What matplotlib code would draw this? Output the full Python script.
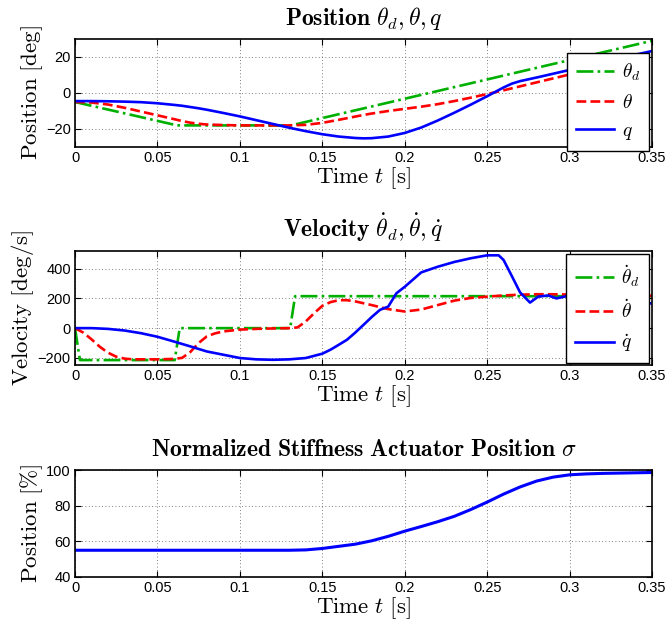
import matplotlib
matplotlib.use("Agg")
import matplotlib.pyplot as plt

plt.rcParams['font.family'] = ['Liberation Sans', 'DejaVu Sans']
plt.rcParams['mathtext.fontset'] = 'cm'
plt.rcParams['axes.unicode_minus'] = True

# --- position panel (deg) ---
t_thd = [0, 0.062, 0.131, 0.35]
pos_thd = [-5, -18, -18, 29]

t_pos = [0, 0.01, 0.02, 0.03, 0.04, 0.05, 0.06, 0.065, 0.07, 0.075, 0.08, 0.09,
         0.1, 0.11, 0.12, 0.13, 0.14, 0.15, 0.16, 0.17, 0.175, 0.18, 0.19, 0.2,
         0.21, 0.22, 0.23, 0.24, 0.25, 0.26, 0.265, 0.27, 0.28, 0.29, 0.3, 0.31,
         0.32, 0.33, 0.34, 0.35]
pos_th = [-5, -5.3, -6.4, -8.2, -10.3, -12.4, -14.5, -15.6, -16.5, -17.1, -17.5, -17.8,
          -18, -18, -18, -18, -17.7, -16.6, -14.9, -13.1, -12.2, -11.4, -10.0, -8.8,
          -7.6, -6.2, -4.5, -2.6, -0.6, 1.5, 2.6, 3.7, 5.9, 8.1, 10.3, 12.5,
          14.7, 16.9, 19.1, 21.3]
pos_q = [-4.5, -4.5, -4.6, -4.8, -5.1, -5.7, -6.6, -7.1, -7.8, -8.5, -9.3, -11.1,
         -13.0, -15.1, -17.2, -19.3, -21.2, -22.9, -24.2, -25.0, -25.2, -25.1, -24.2, -22.2,
         -19.2, -15.3, -11.0, -6.5, -1.8, 3.1, 5.2, 6.6, 8.6, 10.7, 12.8, 15.0,
         17.2, 19.3, 21.3, 23.3]

# --- velocity panel (deg/s) ---
t_vthd = [0, 0.003, 0.0605, 0.0635, 0.1305, 0.1335, 0.35]
vel_thd = [0, -215, -215, 0, 0, 215, 215]

t_vth = [0, 0.005, 0.01, 0.015, 0.02, 0.025, 0.03, 0.035, 0.04, 0.05, 0.06, 0.065,
         0.07, 0.075, 0.08, 0.085, 0.09, 0.1, 0.11, 0.12, 0.13, 0.135, 0.14, 0.145,
         0.15, 0.155, 0.16, 0.165, 0.17, 0.18, 0.19, 0.2, 0.21, 0.22, 0.23, 0.24,
         0.25, 0.26, 0.27, 0.28, 0.29, 0.3, 0.31, 0.32, 0.33, 0.34, 0.35]
vel_th = [0, -30, -75, -125, -165, -192, -205, -210, -210, -210, -207, -200,
          -160, -100, -55, -35, -22, -10, -5, -2, 0, 5, 45, 100,
          150, 175, 188, 188, 180, 155, 128, 112, 125, 155, 185, 203,
          212, 220, 225, 228, 228, 226, 225, 224, 222, 220, 218]

t_vq = [0, 0.01, 0.02, 0.03, 0.04, 0.05, 0.06, 0.07, 0.08, 0.09, 0.1, 0.11,
        0.12, 0.13, 0.14, 0.15, 0.155, 0.16, 0.165, 0.17, 0.175, 0.18, 0.185, 0.19,
        0.195, 0.2, 0.21, 0.22, 0.23, 0.24, 0.25, 0.257, 0.26, 0.265, 0.27, 0.276,
        0.281, 0.287, 0.292, 0.297, 0.3, 0.31, 0.32, 0.33, 0.34, 0.35]
vel_q = [0, 0, -5, -16, -34, -58, -90, -123, -157, -179, -201, -210,
         -213, -210, -201, -172, -145, -112, -78, -30, 22, 75, 123, 145,
         235, 278, 375, 413, 445, 470, 490, 490, 458, 350, 240, 172,
         212, 220, 200, 212, 222, 225, 220, 205, 185, 165]

# --- stiffness actuator panel (%) ---
t_sig = [0, 0.1, 0.13, 0.14, 0.15, 0.16, 0.17, 0.18, 0.19, 0.2, 0.21, 0.22,
         0.23, 0.24, 0.25, 0.26, 0.27, 0.28, 0.29, 0.3, 0.31, 0.32, 0.35]
sig = [55, 55, 55, 55.2, 56, 57.2, 58.4, 60.3, 62.8, 65.7, 68.3, 71.0,
       74.0, 77.8, 82.0, 86.5, 90.5, 93.8, 96.0, 97.3, 97.8, 98.1, 98.6]

x_ticks = [0, 0.05, 0.1, 0.15, 0.2, 0.25, 0.3, 0.35]
x_ticklabels = ['0', '0.05', '0.1', '0.15', '0.2', '0.25', '0.3', '0.35']

GREEN = '#00b000'
RED = '#ff0000'
BLUE = '#0000ff'

fig = plt.figure(figsize=(6.68, 6.24), dpi=100)
W, H = 668.0, 624.0
L, R = 75, 652


def make_ax(top, bottom):
    ax = fig.add_axes([L / W, 1 - bottom / H, (R - L) / W, (bottom - top) / H])
    ax.set_xlim(0, 0.35)
    ax.set_xticks(x_ticks)
    ax.set_xticklabels(x_ticklabels)
    ax.tick_params(direction='in', top=True, right=True, length=4, width=0.8,
                   labelsize=10.5, pad=3)
    ax.grid(True, linestyle=(0, (1, 3)), color='#555555', linewidth=0.6)
    for s in ax.spines.values():
        s.set_linewidth(1.2)
    ax.set_xlabel(r'$\mathrm{Time}\ t\ \mathrm{[s]}$', fontsize=16.5, labelpad=0)
    return ax


def add_legend(ax, anchor):
    leg = ax.legend(loc='upper right', bbox_to_anchor=anchor, fontsize=14,
                    handlelength=2.0, handletextpad=0.4, labelspacing=0.55,
                    borderpad=0.45, borderaxespad=0, fancybox=False,
                    framealpha=1, edgecolor='black')
    leg.get_frame().set_linewidth(1.0)


ax1 = make_ax(39, 147)
ax1.plot(t_thd, pos_thd, color=GREEN, linestyle='-.', linewidth=1.9, label=r'$\theta_d$')
ax1.plot(t_pos, pos_th, color=RED, linestyle='--', linewidth=1.9, label=r'$\theta$')
ax1.plot(t_pos, pos_q, color=BLUE, linestyle='-', linewidth=1.9, label=r'$q$')
ax1.set_ylim(-30, 30)
ax1.set_yticks([-20, 0, 20])
ax1.set_ylabel(r'$\mathrm{Position\ [deg]}$', fontsize=16.5, labelpad=1)
ax1.set_title(r'$\mathbf{Position}\ \theta_d, \theta, q$', fontsize=17, pad=10)
add_legend(ax1, (0.995, 0.87))

ax2 = make_ax(251, 365)
ax2.plot(t_vthd, vel_thd, color=GREEN, linestyle='-.', linewidth=1.9, label=r'$\dot{\theta}_d$')
ax2.plot(t_vth, vel_th, color=RED, linestyle='--', linewidth=1.9, label=r'$\dot{\theta}$')
ax2.plot(t_vq, vel_q, color=BLUE, linestyle='-', linewidth=1.9, label=r'$\dot{q}$')
ax2.set_ylim(-248, 519)
ax2.set_yticks([-200, 0, 200, 400])
ax2.set_ylabel(r'$\mathrm{Velocity\ [deg/s]}$', fontsize=16.5, labelpad=1)
ax2.set_title(r'$\mathbf{Velocity}\ \dot{\theta}_d, \dot{\theta}, \dot{q}$', fontsize=17, pad=10)
add_legend(ax2, (0.995, 0.974))

ax3 = make_ax(470, 577)
ax3.plot(t_sig, sig, color=BLUE, linestyle='-', linewidth=2.2)
ax3.set_ylim(40, 100)
ax3.set_yticks([40, 60, 80, 100])
ax3.set_ylabel(r'$\mathrm{Position\ [\%]}$', fontsize=16.5, labelpad=1)
ax3.set_title(r'$\mathbf{Normalized\ Stiffness\ Actuator\ Position}\ \sigma$', fontsize=17, pad=10)

fig.savefig('out.png', dpi=100)
